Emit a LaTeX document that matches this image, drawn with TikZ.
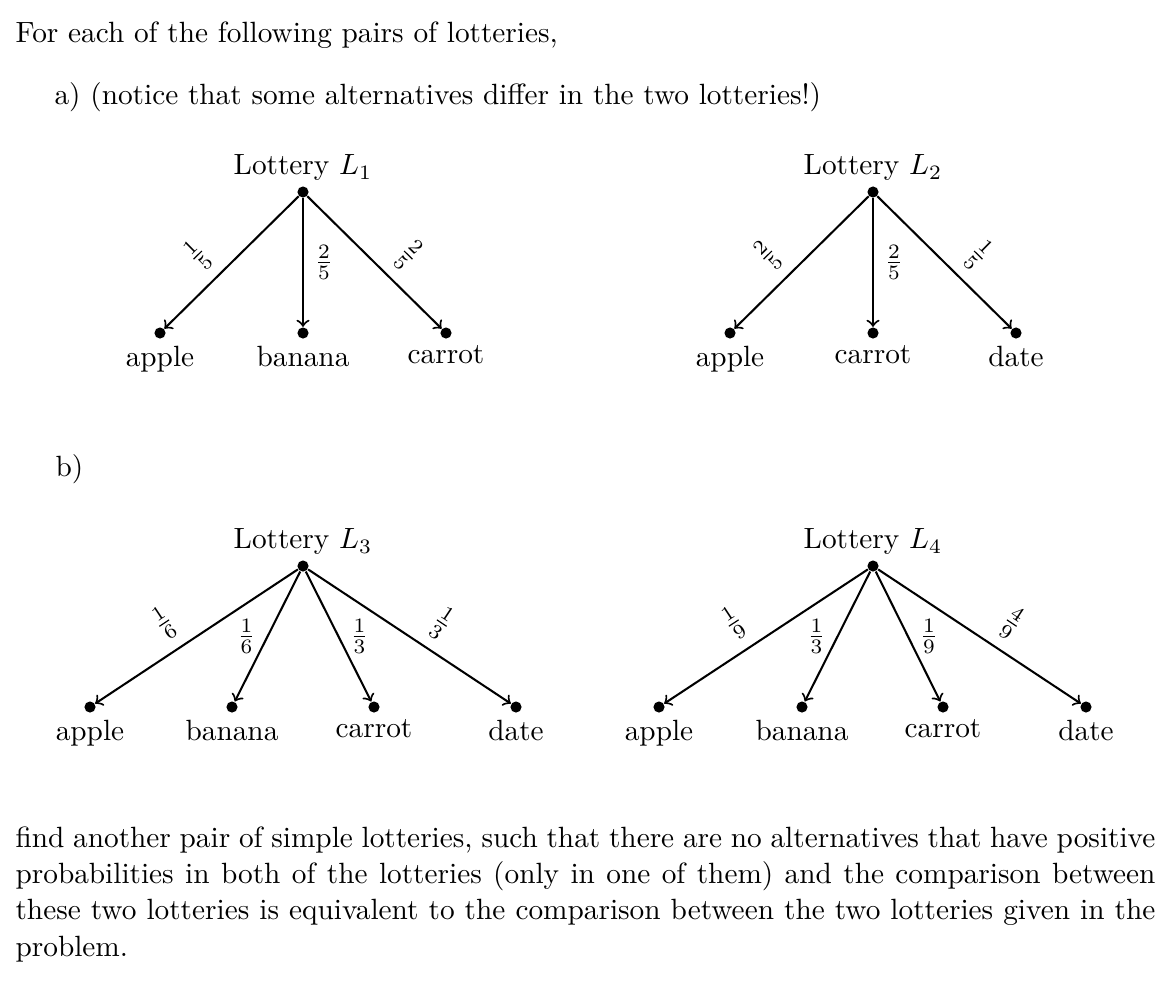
\documentclass[tikz,border=0pt]{standalone}
\usepackage{amsmath}
\usepackage{tikz}
\usetikzlibrary{positioning}
\tikzset{
  lotdot/.style={circle, fill=black, inner sep=0pt, minimum size=3.8pt},
  arrow/.style={->, line width=0.7pt},
  prob/.style={inner sep=3.6pt},
  txt/.style={anchor=base west, inner sep=0pt},
}

\begin{document}
\begin{tikzpicture}[x=0.3413pt, y=-0.3413pt]
\useasboundingbox (0,0) rectangle (1170,988);
\node[txt] (intro) at (15,42) {For each of the following pairs of lotteries,};
\node[txt] (parta) at (54,104) {a) (notice that some alternatives differ in the two lotteries!)};
\node[txt] (partb) at (55,476) {b)};
% lottery L1
\node[lotdot] (r1) at (303,192) {};
\node[above=-1.8pt of r1] (t1) {Lottery $L_1$};
\node[lotdot] (a1) at (160,333) {};
\node[lotdot] (b1) at (303,333) {};
\node[lotdot] (c1) at (446,333) {};
\node[below=-1.3pt of a1] (a1l) {apple};
\node[below=-1.3pt of b1] (b1l) {banana};
\node[below=-1.3pt of c1] (c1l) {carrot};
\draw[arrow] (r1) -- node[prob, sloped, above, pos=0.6] {$\frac{1}{5}$} (a1);
\draw[arrow] (r1) -- node[prob, right] {$\frac{2}{5}$} (b1);
\draw[arrow] (r1) -- node[prob, sloped, above, pos=0.6] {$\frac{2}{5}$} (c1);
% lottery L2
\node[lotdot] (r2) at (873,192) {};
\node[above=-1.8pt of r2] (t2) {Lottery $L_2$};
\node[lotdot] (a2) at (730,333) {};
\node[lotdot] (c2) at (873,333) {};
\node[lotdot] (d2) at (1016,333) {};
\node[below=-1.3pt of a2] (a2l) {apple};
\node[below=-1.3pt of c2] (c2l) {carrot};
\node[below=-1.3pt of d2] (d2l) {date};
\draw[arrow] (r2) -- node[prob, sloped, above, pos=0.6] {$\frac{2}{5}$} (a2);
\draw[arrow] (r2) -- node[prob, right] {$\frac{2}{5}$} (c2);
\draw[arrow] (r2) -- node[prob, sloped, above, pos=0.6] {$\frac{1}{5}$} (d2);
% lottery L3
\node[lotdot] (r3) at (303,566) {};
\node[above=-1.8pt of r3] (t3) {Lottery $L_3$};
\node[lotdot] (a3) at (90,707) {};
\node[lotdot] (b3) at (232,707) {};
\node[lotdot] (c3) at (374,707) {};
\node[lotdot] (d3) at (516,707) {};
\node[below=-1.3pt of a3] (a3l) {apple};
\node[below=-1.3pt of b3] (b3l) {banana};
\node[below=-1.3pt of c3] (c3l) {carrot};
\node[below=-1.3pt of d3] (d3l) {date};
\draw[arrow] (r3) -- node[prob, sloped, above, pos=0.58] {$\frac{1}{6}$} (a3);
\draw[arrow] (r3) -- node[prob, left] {$\frac{1}{6}$} (b3);
\draw[arrow] (r3) -- node[prob, right] {$\frac{1}{3}$} (c3);
\draw[arrow] (r3) -- node[prob, sloped, above, pos=0.58] {$\frac{1}{3}$} (d3);
% lottery L4
\node[lotdot] (r4) at (873,566) {};
\node[above=-1.8pt of r4] (t4) {Lottery $L_4$};
\node[lotdot] (a4) at (659,707) {};
\node[lotdot] (b4) at (802,707) {};
\node[lotdot] (c4) at (943,707) {};
\node[lotdot] (d4) at (1086,707) {};
\node[below=-1.3pt of a4] (a4l) {apple};
\node[below=-1.3pt of b4] (b4l) {banana};
\node[below=-1.3pt of c4] (c4l) {carrot};
\node[below=-1.3pt of d4] (d4l) {date};
\draw[arrow] (r4) -- node[prob, sloped, above, pos=0.58] {$\frac{1}{9}$} (a4);
\draw[arrow] (r4) -- node[prob, left] {$\frac{1}{3}$} (b4);
\draw[arrow] (r4) -- node[prob, right] {$\frac{1}{9}$} (c4);
\draw[arrow] (r4) -- node[prob, sloped, above, pos=0.58] {$\frac{4}{9}$} (d4);
% closing paragraph
\node[txt] (task) at (15,847) {\parbox[t]{389pt}{\fontsize{10}{12.4}\selectfont
find another pair of simple lotteries, such that there are no alternatives that have positive\linebreak
probabilities in both of the lotteries (only in one of them) and the comparison between\linebreak
these two lotteries is equivalent to the comparison between the two lotteries given in the\linebreak
problem.}};
\end{tikzpicture}
\end{document}
